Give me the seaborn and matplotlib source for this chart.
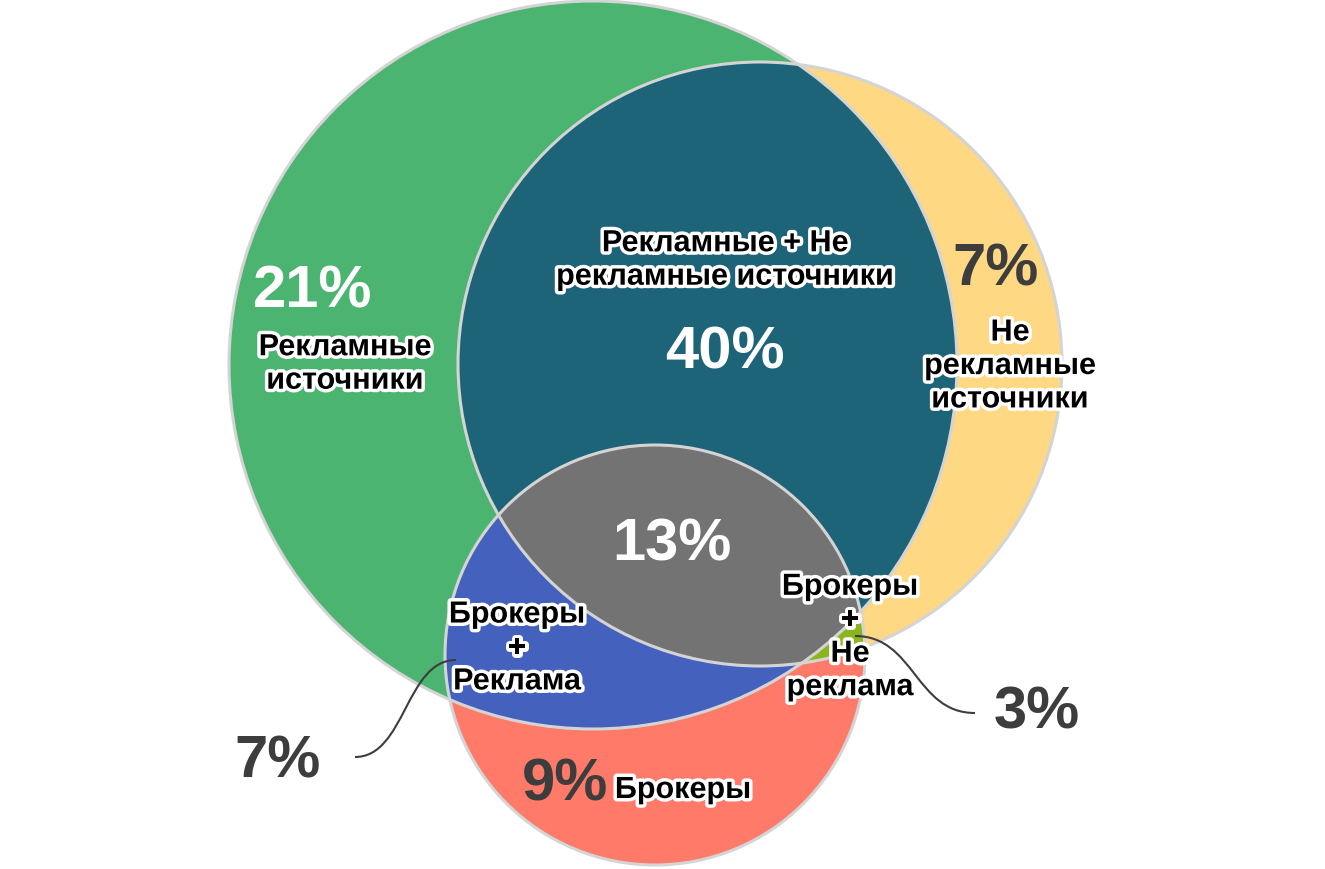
import numpy as np
import matplotlib
matplotlib.use("Agg")
import matplotlib.pyplot as plt
import matplotlib.patheffects as pe
from matplotlib.patches import Circle, Polygon, PathPatch
from matplotlib.path import Path
import seaborn as sns

# --- data ---
SET_NAMES = ["Рекламные источники", "Не рекламные источники", "Брокеры"]
REGION_LABELS = ["Рекламные\nисточники", "Рекламные + Не\nрекламные источники",
                 "Не\nрекламные\nисточники", "Брокеры\n+\nРеклама",
                 "Брокеры\n+\nНе\nреклама", "Брокеры"]
REGION_PCT = [21, 40, 7, 13, 7, 3, 9]   # A, A+N, N, A+N+B, A+B, N+B, B

# --- layout (pixel space, y down) ---
CIRCLE_X = [593, 760, 655]
CIRCLE_Y = [365, 364, 655]
CIRCLE_R = [364, 302, 210]

COLORS = {
    "A": "#4cb471", "AN": "#1e6478", "N": "#ffd884", "ANB": "#737373",
    "AB": "#4561be", "NB": "#8ab51e", "B": "#ff7a68",
}
EDGE = "#d4d4d4"
DARK = "#3d3d3d"

sns.set_theme(style="white")
plt.rcParams["font.family"] = ["Liberation Sans", "DejaVu Sans"]

fig = plt.figure(figsize=(13.25, 8.69), dpi=100)
ax = fig.add_axes([0, 0, 1, 1])
ax.set_xlim(0, 1325)
ax.set_ylim(869, 0)
ax.set_aspect("equal")
ax.axis("off")


def circ(i, **kw):
    return Circle((CIRCLE_X[i], CIRCLE_Y[i]), CIRCLE_R[i], **kw)


def inter_polygon(i, j, n=2000):
    # intersection of two circles as a convex polygon
    t = np.linspace(0, 2 * np.pi, n, endpoint=False)
    pts = []
    for a, b in [(i, j), (j, i)]:
        px = CIRCLE_X[a] + CIRCLE_R[a] * np.cos(t)
        py = CIRCLE_Y[a] + CIRCLE_R[a] * np.sin(t)
        inside = (px - CIRCLE_X[b]) ** 2 + (py - CIRCLE_Y[b]) ** 2 <= CIRCLE_R[b] ** 2
        pts.append(np.column_stack([px[inside], py[inside]]))
    pts = np.vstack(pts)
    c = pts.mean(axis=0)
    order = np.argsort(np.arctan2(pts[:, 1] - c[1], pts[:, 0] - c[0]))
    return pts[order]


# clip shapes
clipA = circ(0, transform=ax.transData)
clipN = circ(1, transform=ax.transData)
clipAN = Polygon(inter_polygon(0, 1), closed=True, transform=ax.transData)

# fills
ax.add_patch(circ(0, fc=COLORS["A"], ec="none"))
ax.add_patch(circ(1, fc=COLORS["N"], ec="none"))
p = ax.add_patch(circ(1, fc=COLORS["AN"], ec="none"))
p.set_clip_path(clipA)
ax.add_patch(circ(2, fc=COLORS["B"], ec="none"))
p = ax.add_patch(circ(2, fc=COLORS["AB"], ec="none"))
p.set_clip_path(clipA)
p = ax.add_patch(circ(2, fc=COLORS["NB"], ec="none"))
p.set_clip_path(clipN)
p = ax.add_patch(circ(2, fc=COLORS["ANB"], ec="none"))
p.set_clip_path(clipAN)

# outlines
for i in range(3):
    ax.add_patch(circ(i, fc="none", ec=EDGE, lw=2.2))

# connectors (S-curves)
def s_curve(x0, y0, x1, y1):
    xm = (x0 + x1) / 2
    verts = [(x0, y0), (xm, y0), (xm, y1), (x1, y1)]
    codes = [Path.MOVETO, Path.CURVE4, Path.CURVE4, Path.CURVE4]
    ax.add_patch(PathPatch(Path(verts, codes), fc="none", ec=DARK, lw=1.5))

s_curve(456, 660, 355, 757)
s_curve(855, 636, 975, 713)

# labels
outline = [pe.withStroke(linewidth=5, foreground="white")]
label_kw = dict(fontsize=22, fontweight="bold", color="black", ha="center",
                va="center", linespacing=1.15, path_effects=outline)
pct_kw = dict(fontsize=43, fontweight="bold", ha="center", va="center")

label_pos = [(345, 364), (725, 260), (1010, 366), (517, 648), (850, 637), (683, 790)]
for txt, (x, y) in zip(REGION_LABELS, label_pos):
    ax.text(x, y, txt, **label_kw)

pct_pos = [(313, 292), (725, 353), (996, 270), (672, 545), (278, 762), (1037, 713), (565, 785)]
pct_col = ["white", "white", DARK, "white", DARK, DARK, DARK]
for v, (x, y), c in zip(REGION_PCT, pct_pos, pct_col):
    ax.text(x, y, f"{v}%", color=c, **pct_kw)

fig.savefig("out.png", dpi=100, facecolor="white")
